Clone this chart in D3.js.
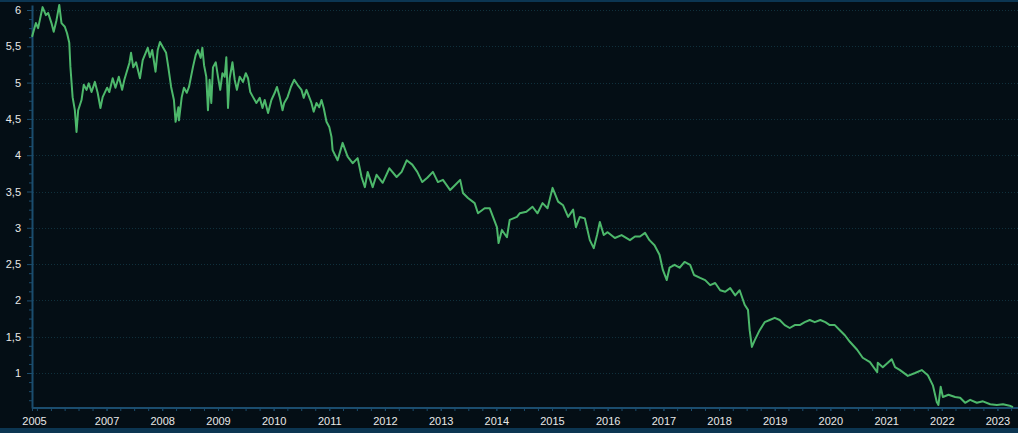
<!DOCTYPE html>
<html><head><meta charset="utf-8">
<script src="https://cdn.jsdelivr.net/npm/d3@7"></script>
<style>
html,body{margin:0;padding:0;background:#040e15;overflow:hidden;}
svg{display:block;}
text{font-family:"Liberation Sans",Arial,sans-serif;}
</style></head><body>
<svg id="chart" width="1018" height="433"></svg>
<script>
// decimal years
const years = [
2005.66,2005.73,2005.77,2005.85,2005.91,2005.95,2006.01,2006.05,2006.10,2006.15,2006.19,2006.25,2006.29,2006.33,2006.35,2006.39,2006.43,2006.46,2006.49,2006.55,
2006.59,2006.64,2006.68,2006.73,2006.79,2006.84,2006.89,2006.93,2007.01,2007.05,2007.11,2007.16,2007.22,2007.28,2007.32,2007.41,2007.44,2007.48,2007.53,2007.60,
2007.65,2007.74,2007.78,2007.82,2007.88,2007.92,2007.96,2008.01,2008.07,2008.11,2008.16,2008.21,2008.24,2008.29,2008.30,2008.35,2008.39,2008.44,2008.48,2008.55,
2008.60,2008.64,2008.69,2008.72,2008.75,2008.79,2008.82,2008.85,2008.88,2008.91,2008.96,2009.00,2009.04,2009.08,2009.12,2009.15,2009.18,2009.21,2009.26,2009.30,
2009.34,2009.39,2009.45,2009.50,2009.54,2009.58,2009.63,2009.69,2009.75,2009.80,2009.84,2009.90,2009.96,2010.02,2010.06,2010.11,2010.16,2010.19,2010.25,2010.31,
2010.37,2010.43,2010.50,2010.54,2010.59,2010.64,2010.68,2010.72,2010.77,2010.82,2010.86,2010.90,2010.95,2011.00,2011.04,2011.06,2011.15,2011.24,2011.33,2011.42,
2011.51,2011.58,2011.64,2011.69,2011.78,2011.85,2011.96,2012.08,2012.21,2012.30,2012.39,2012.49,2012.58,2012.67,2012.76,2012.86,2012.95,2013.04,2013.17,2013.26,
2013.35,2013.40,2013.49,2013.61,2013.67,2013.79,2013.88,2013.94,2014.01,2014.04,2014.10,2014.19,2014.24,2014.37,2014.42,2014.54,2014.65,2014.74,2014.83,2014.92,
2015.01,2015.11,2015.20,2015.29,2015.38,2015.43,2015.50,2015.59,2015.68,2015.75,2015.81,2015.86,2015.93,2016.00,2016.13,2016.25,2016.40,2016.49,2016.58,2016.67,
2016.75,2016.84,2016.93,2016.99,2017.06,2017.11,2017.20,2017.29,2017.38,2017.48,2017.55,2017.66,2017.75,2017.84,2017.93,2018.02,2018.11,2018.20,2018.29,2018.37,
2018.46,2018.52,2018.55,2018.59,2018.64,2018.73,2018.82,2018.91,2019.00,2019.09,2019.18,2019.27,2019.36,2019.45,2019.54,2019.63,2019.72,2019.82,2019.91,2019.99,
2020.08,2020.17,2020.26,2020.35,2020.48,2020.58,2020.71,2020.84,2020.85,2020.94,2021.03,2021.10,2021.16,2021.25,2021.39,2021.52,2021.64,2021.75,2021.84,2021.91,
2021.94,2021.98,2022.02,2022.12,2022.24,2022.33,2022.42,2022.51,2022.63,2022.74,2022.87,2022.99,2023.10,2023.22,2023.28
];
const values = [
5.63,5.82,5.75,6.04,5.93,5.96,5.82,5.70,5.86,6.07,5.82,5.77,5.68,5.55,5.22,4.80,4.62,4.32,4.62,4.76,
4.97,4.90,4.99,4.87,5.01,4.86,4.65,4.80,4.93,4.87,5.06,4.93,5.08,4.90,5.04,5.27,5.41,5.21,5.28,5.06,
5.31,5.48,5.35,5.45,5.15,5.45,5.56,5.49,5.41,5.21,4.94,4.76,4.46,4.66,4.48,4.80,4.93,4.86,4.94,5.21,
5.38,5.45,5.34,5.48,5.24,5.08,4.62,5.04,4.72,5.21,5.28,5.08,4.90,5.13,5.08,5.35,4.65,5.06,5.28,5.04,
4.90,5.08,5.01,5.13,5.06,4.87,4.80,4.72,4.79,4.65,4.76,4.58,4.76,4.86,4.94,4.80,4.62,4.72,4.80,4.94,
5.04,4.97,4.90,4.79,4.90,4.80,4.72,4.60,4.72,4.66,4.76,4.65,4.46,4.39,4.25,4.07,3.93,4.17,3.98,3.89,
3.96,3.70,3.56,3.77,3.56,3.73,3.62,3.82,3.70,3.77,3.93,3.87,3.77,3.63,3.69,3.77,3.63,3.66,3.52,3.59,
3.66,3.48,3.41,3.34,3.20,3.27,3.27,3.15,3.01,2.79,2.97,2.87,3.11,3.15,3.20,3.22,3.29,3.20,3.34,3.27,
3.55,3.36,3.31,3.15,3.25,3.01,3.15,3.13,2.83,2.72,2.90,3.08,2.90,2.94,2.86,2.90,2.83,2.88,2.88,2.93,
2.83,2.76,2.63,2.42,2.28,2.45,2.49,2.45,2.53,2.49,2.35,2.31,2.28,2.21,2.24,2.14,2.12,2.17,2.07,2.14,
1.94,1.87,1.59,1.36,1.45,1.59,1.70,1.73,1.76,1.73,1.66,1.62,1.66,1.66,1.70,1.73,1.70,1.73,1.70,1.66,
1.66,1.59,1.52,1.43,1.32,1.21,1.15,1.01,1.14,1.08,1.14,1.19,1.08,1.04,0.96,1.00,1.04,0.97,0.83,0.60,
0.56,0.81,0.67,0.70,0.67,0.66,0.59,0.63,0.59,0.61,0.57,0.56,0.57,0.55,0.53
];
const yTickValues = [1, 1.5, 2, 2.5, 3, 3.5, 4, 4.5, 5, 5.5, 6];
const xTickYears = [2007,2008,2009,2010,2011,2012,2013,2014,2015,2016,2017,2018,2019,2020,2021,2022,2023];
const firstLabel = "2005";

const W = 1018, H = 433;
const svg = d3.select("#chart");
function toDate(dy){ const yr = Math.floor(dy); const s = new Date(yr,0,1), e = new Date(yr+1,0,1); return new Date(+s + (dy-yr)*(e-s)); }
const data = years.map((t,i)=>({date: toDate(t), v: values[i]}));

const x = d3.scaleTime().domain(d3.extent(data, d=>d.date)).range([32, 1013]);
const y = d3.scaleLinear().domain([0.518, 6.069]).range([408, 5]);

svg.append("rect").attr("width", W).attr("height", H).attr("fill", "#040e15");
svg.append("rect").attr("x",0).attr("y",0).attr("width",W).attr("height",2).attr("fill","#0c3652");
svg.append("rect").attr("x",0).attr("y",428).attr("width",W).attr("height",5).attr("fill","#0c3652");

// gridlines
svg.append("g").selectAll("line").data(yTickValues).join("line")
  .attr("x1", 33).attr("x2", W).attr("y1", d=>Math.round(y(d))+0.5).attr("y2", d=>Math.round(y(d))+0.5)
  .attr("stroke", "#10303c").attr("stroke-width",1).attr("stroke-dasharray","1,2");

const axisColor = "#1b4d6e";
const fmt = d => String(d).replace(".", ",");

// y minor ticks
const yMinor = d3.range(0.625, 6.06, 0.125).filter(v => Math.abs(v*2 - Math.round(v*2)) > 1e-6);
const gyMinor = svg.append("g").attr("transform","translate(32,0)")
  .call(d3.axisLeft(y).tickValues(yMinor).tickSize(3).tickSizeOuter(0).tickFormat(""));
gyMinor.select(".domain").remove();
gyMinor.selectAll("line").attr("stroke", axisColor);

const gy = svg.append("g").attr("transform","translate(32,0)")
  .call(d3.axisLeft(y).tickValues(yTickValues).tickSize(5).tickPadding(6).tickSizeOuter(0).tickFormat(fmt));
gy.select(".domain").attr("stroke", axisColor).attr("stroke-width", 2);
gy.selectAll(".tick line").attr("stroke", axisColor);
gy.selectAll("text").attr("fill","#e8e8e8").style("font-size","11px");

// x axis
const xDom = x.domain();
const xMinor = d3.timeMonth.every(3).range(xDom[0], xDom[1]);
const gxMinor = svg.append("g").attr("transform","translate(0,408)")
  .call(d3.axisBottom(x).tickValues(xMinor).tickSize(3).tickSizeOuter(0).tickFormat(""));
gxMinor.select(".domain").remove();
gxMinor.selectAll("line").attr("stroke", axisColor);

const xMajor = [xDom[0]].concat(xTickYears.map(yr => new Date(yr,0,1)));
const gx = svg.append("g").attr("transform","translate(0,408)")
  .call(d3.axisBottom(x).tickValues(xMajor).tickSize(3).tickPadding(6).tickSizeOuter(0)
    .tickFormat((d,i) => i === 0 ? firstLabel : d3.timeFormat("%Y")(d)));
gx.select(".domain").attr("d", `M${x.range()[0]},0H${W}`).attr("stroke", axisColor).attr("stroke-width", 2);
gx.selectAll(".tick line").attr("stroke", axisColor);
gx.selectAll("text").attr("fill","#e8e8e8").style("font-size","11px");
gx.selectAll(".tick").filter((d,i)=>i===0).select("text").attr("dx", 2);

// line
const line = d3.line().x(d=>x(d.date)).y(d=>y(d.v));
svg.append("path").datum(data).attr("d", line)
  .attr("fill","none").attr("stroke","#4db86b").attr("stroke-width",2)
  .attr("stroke-linejoin","round");
</script>
</body></html>
